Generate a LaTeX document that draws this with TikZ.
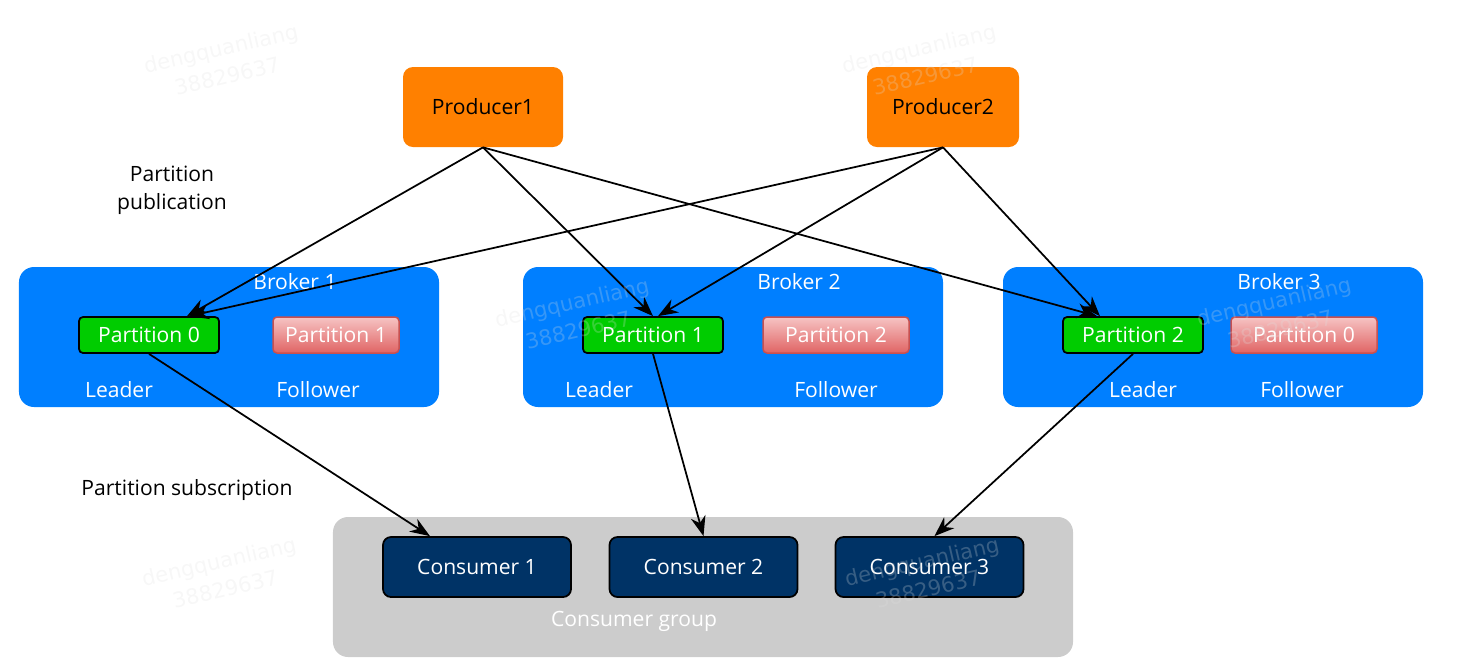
\documentclass[tikz,border=0pt]{standalone}
\usepackage{fontspec}
\setmainfont{Open Sans}
\newfontfamily\wmfont{DejaVu Sans}
\usetikzlibrary{arrows.meta}
\usetikzlibrary{positioning}

\definecolor{prodorange}{HTML}{FF8000}
\definecolor{brokerblue}{HTML}{007FFF}
\definecolor{leadgreen}{HTML}{00CC00}
\definecolor{followtop}{HTML}{F6C4C4}
\definecolor{followbot}{HTML}{E06464}
\definecolor{followline}{HTML}{C85050}
\definecolor{consnavy}{HTML}{003366}
\definecolor{groupgray}{HTML}{CCCCCC}

\tikzset{
  producer/.style={rectangle,rounded corners=2mm,fill=prodorange,inner sep=0pt,minimum height=16mm},
  broker/.style={rectangle,rounded corners=3mm,fill=brokerblue,inner sep=0pt,minimum width=84mm,minimum height=28mm},
  leader/.style={rectangle,rounded corners=0.8mm,draw=black,line width=0.35mm,fill=leadgreen,text=white,inner sep=0pt,minimum width=28mm,minimum height=7.2mm},
  follower/.style={rectangle,rounded corners=0.8mm,draw=followline,line width=0.3mm,top color=followtop,bottom color=followbot,text=white,inner sep=0pt,minimum height=7.2mm},
  consumer/.style={rectangle,rounded corners=1.6mm,draw=black,line width=0.35mm,fill=consnavy,text=white,inner sep=0pt,minimum width=37.6mm,minimum height=12mm},
  group/.style={rectangle,rounded corners=3mm,fill=groupgray,inner sep=0pt,minimum width=148mm,minimum height=28mm},
  whitelbl/.style={text=white},
  link/.style={-{Stealth[length=4mm,width=3mm]},line width=0.35mm},
  wmark/.style={text=gray!25,opacity=0.25,rotate=13,align=center,font=\wmfont\fontsize{12}{16}\selectfont}
}

\begin{document}
\begin{tikzpicture}[x=0.2mm,y=-0.2mm,font=\fontsize{12}{16}\selectfont]
\useasboundingbox (0,0) rectangle (1464,670);

\node[producer,minimum width=32mm] (prod1) at (483,107) {Producer1};
\node[producer,minimum width=30.4mm] (prod2) at (943,107) {Producer2};
\node[align=center] (pubtext) at (172,190) {Partition\\publication};

\node[broker] (broker1) at (229,337) {};
\node[broker] (broker2) at (733,337) {};
\node[broker] (broker3) at (1213,337) {};
\node[whitelbl] (b1name) at (295,282) {Broker 1};
\node[whitelbl] (b2name) at (799,282) {Broker 2};
\node[whitelbl] (b3name) at (1279,282) {Broker 3};

\node[leader] (b1p0) at (149,335) {Partition 0};
\node[follower,minimum width=25.2mm] (b1p1) at (336,335) {Partition 1};
\node[leader] (b2p1) at (653,335) {Partition 1};
\node[follower,minimum width=29.2mm] (b2p2) at (836,335) {Partition 2};
\node[leader] (b3p2) at (1133,335) {Partition 2};
\node[follower,minimum width=29.2mm] (b3p0) at (1304,335) {Partition 0};

\node[whitelbl] (b1lead) at (119,390) {Leader};
\node[whitelbl] (b1foll) at (318,390) {Follower};
\node[whitelbl] (b2lead) at (599,390) {Leader};
\node[whitelbl] (b2foll) at (836,390) {Follower};
\node[whitelbl] (b3lead) at (1143,390) {Leader};
\node[whitelbl] (b3foll) at (1302,390) {Follower};

\node (subtext) at (187,490) {Partition subscription};

\node[group] (cgroup) at (703,587) {};
\node[consumer] (cons1) at (477,567) {Consumer 1};
\node[consumer] (cons2) at (703.5,567) {Consumer 2};
\node[consumer] (cons3) at (929.5,567) {Consumer 3};
\node[whitelbl] (grouplbl) at (634,621) {Consumer group};

\draw[link] (prod1.south) -- ([xshift=7.6mm]b1p0.north);
\draw[link] (prod1.south) -- (b2p1.north);
\draw[link] (prod1.south) -- ([xshift=-7.2mm]b3p2.north);
\draw[link] (prod2.south) -- ([xshift=8mm]b1p0.north);
\draw[link] (prod2.south) -- ([xshift=1mm]b2p1.north);
\draw[link] (prod2.south) -- ([xshift=-6.6mm]b3p2.north);
\draw[link] (b1p0.south) -- ([xshift=-9.4mm]cons1.north);
\draw[link] (b2p1.south) -- (cons2.north);
\draw[link] (b3p2.south) -- ([xshift=1mm]cons3.north);

\node[wmark] (wm1) at (224,62) {dengquanliang\\38829637};
\node[wmark] (wm2) at (922,62) {dengquanliang\\38829637};
\node[wmark] (wm3) at (575,316) {dengquanliang\\38829637};
\node[wmark] (wm4) at (1277,315) {dengquanliang\\38829637};
\node[wmark] (wm5) at (222,575) {dengquanliang\\38829637};
\node[wmark] (wm6) at (925,575) {dengquanliang\\38829637};

\end{tikzpicture}
\end{document}
